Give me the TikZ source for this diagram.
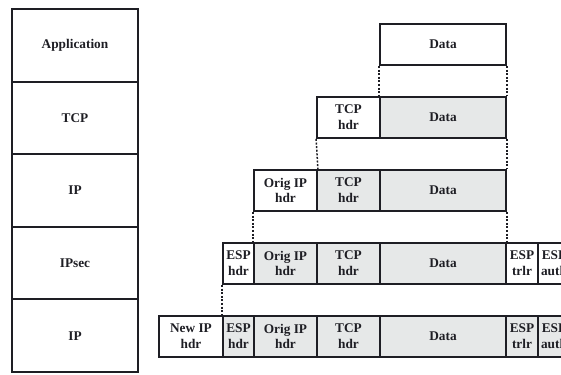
\documentclass[tikz,border=0pt]{standalone}
\usepackage{fontspec}
\setmainfont{Liberation Serif}
\definecolor{gfill}{HTML}{E6E8E8}
\definecolor{ink}{HTML}{1E1E24}
\begin{document}
\begin{tikzpicture}[x=1pt,y=-1pt,
  box/.style={draw=ink, text=ink, line width=1.9pt, inner sep=0pt, align=center,
    font=\bfseries\fontsize{13.3}{15.8}\selectfont, minimum height=41pt},
  lay/.style={box, minimum width=126pt, minimum height=72.6pt},
  shade/.style={fill=gfill},
  link/.style={draw=ink, line width=1.5pt, dash pattern=on 2pt off 1.6pt}]
\useasboundingbox (0,0) rectangle (561,374);
\clip (0,0) rectangle (561,374);
% left layer column
\node[lay] (lapp)  at (75,45.3)  {Application};
\node[lay] (ltcp)  at (75,117.9) {TCP};
\node[lay] (lip)   at (75,190.5) {IP};
\node[lay] (lsec)  at (75,263.1) {IPsec};
\node[lay] (lip2)  at (75,335.7) {IP};
% row 1
\node[box, minimum width=126pt] (d1) at (443,44.5) {Data};
% row 2
\node[box, minimum width=63pt] (t2) at (348.5,117.5) {TCP\\hdr};
\node[box, shade, minimum width=126pt] (d2) at (443,117.5) {Data};
% row 3
\node[box, minimum width=63pt] (o3) at (285.5,190.5) {Orig IP\\hdr};
\node[box, shade, minimum width=63pt] (t3) at (348.5,190.5) {TCP\\hdr};
\node[box, shade, minimum width=126pt] (d3) at (443,190.5) {Data};
% row 4
\node[box, minimum width=31pt] (e4) at (238.5,263.5) {ESP\\hdr};
\node[box, shade, minimum width=63pt] (o4) at (285.5,263.5) {Orig IP\\hdr};
\node[box, shade, minimum width=63pt] (t4) at (348.5,263.5) {TCP\\hdr};
\node[box, shade, minimum width=126pt] (d4) at (443,263.5) {Data};
\node[box, minimum width=32pt] (r4) at (522,263.5) {ESP\\trlr};
\node[box, minimum width=32pt] (a4) at (554,263.5) {ESP\\auth};
% row 5
\node[box, minimum width=64pt] (n5) at (191,336.5) {New IP\\hdr};
\node[box, shade, minimum width=31pt] (e5) at (238.5,336.5) {ESP\\hdr};
\node[box, shade, minimum width=63pt] (o5) at (285.5,336.5) {Orig IP\\hdr};
\node[box, shade, minimum width=63pt] (t5) at (348.5,336.5) {TCP\\hdr};
\node[box, shade, minimum width=126pt] (d5) at (443,336.5) {Data};
\node[box, shade, minimum width=32pt] (r5) at (522,336.5) {ESP\\trlr};
\node[box, shade, minimum width=32pt] (a5) at (554,336.5) {ESP\\auth};
% dotted guides
\draw[link] (d1.south west) -- (d2.north west);
\draw[link] (d1.south east) -- (d2.north east);
\draw[link] (t2.south west) -- (o3.north east);
\draw[link] (d2.south east) -- (d3.north east);
\draw[link] (o3.south west) -- (o4.north west);
\draw[link] (d3.south east) -- (d4.north east);
\draw[link] (e4.south west) -- (e5.north west);
\end{tikzpicture}
\end{document}
